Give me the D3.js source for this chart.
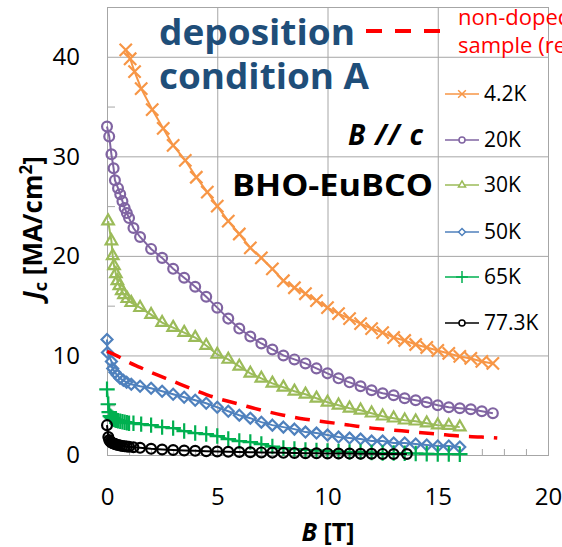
<!DOCTYPE html>
<html>
<head>
<meta charset="utf-8">
<script src="https://cdn.jsdelivr.net/npm/d3@7"></script>
<style>
  body { margin: 0; background: #fff; }
  svg { display: block; font-family: "Open Sans", "Noto Sans", sans-serif; }
</style>
</head>
<body>
<script>
// ---- data (B in T, Jc in MA/cm2) ----
const b42 = [0.85, 1.05, 1.25, 1.55, 2.05, 2.55, 3.0, 3.55, 4.05, 4.55, 5.0, 5.5, 6.0, 6.5, 7.0, 7.5, 8.0, 8.5, 9.0, 9.5, 10.0, 10.5, 11.0, 11.5, 12.0, 12.5, 13.0, 13.5, 14.0, 14.5, 15.0, 15.5, 16.0, 16.5, 17.0, 17.5];
const jc42 = [40.7, 39.8, 38.5, 36.8, 34.7, 32.8, 31.1, 29.6, 27.9, 26.4, 25.0, 23.5, 22.2, 20.8, 19.8, 18.7, 17.5, 16.8, 16.2, 15.5, 14.8, 14.2, 13.7, 13.2, 12.7, 12.3, 11.8, 11.5, 11.1, 10.8, 10.5, 10.2, 9.9, 9.7, 9.4, 9.2];

const b20 = [0, 0.1, 0.2, 0.3, 0.36, 0.5, 0.6, 0.7, 0.8, 0.9, 1.0, 1.2, 1.5, 2.0, 2.5, 3.0, 3.5, 4.0, 4.5, 5.0, 5.5, 6.0, 6.5, 7.0, 7.5, 8.0, 8.5, 9.0, 9.5, 10.0, 10.5, 11.0, 11.5, 12.0, 12.5, 13.0, 13.5, 14.0, 14.5, 15.0, 15.5, 16.0, 16.5, 17.0, 17.5];
const jc20 = [33.0, 32.0, 30.2, 28.8, 27.6, 26.8, 26.2, 25.5, 24.8, 24.3, 23.8, 22.8, 21.9, 20.7, 19.8, 18.7, 17.8, 16.9, 15.9, 14.8, 13.7, 12.7, 11.9, 11.2, 10.6, 10.0, 9.6, 9.2, 8.7, 8.2, 7.7, 7.3, 6.9, 6.5, 6.2, 6.0, 5.7, 5.5, 5.3, 5.0, 4.8, 4.7, 4.6, 4.4, 4.2];

const b30 = [0.05, 0.2, 0.26, 0.32, 0.4, 0.47, 0.56, 0.67, 0.77, 0.92, 1.1, 1.5, 2.0, 2.5, 3.0, 3.5, 4.0, 4.5, 5.0, 5.5, 6.0, 6.5, 7.0, 7.5, 8.0, 8.5, 9.0, 9.5, 10.0, 10.5, 11.0, 11.5, 12.0, 12.5, 13.0, 13.5, 14.0, 14.5, 15.0, 15.5, 16.0];
const jc30 = [23.5, 21.5, 20.0, 19.0, 18.2, 17.5, 17.0, 16.5, 16.1, 15.7, 15.3, 14.8, 14.1, 13.3, 12.8, 12.3, 11.8, 11.0, 10.1, 9.6, 8.9, 8.2, 7.7, 7.2, 6.8, 6.4, 6.1, 5.7, 5.3, 5.0, 4.7, 4.5, 4.2, 3.9, 3.7, 3.5, 3.4, 3.2, 3.0, 2.95, 2.8];

const b50 = [0, 0.02, 0.2, 0.26, 0.36, 0.47, 0.59, 0.74, 0.89, 1.1, 1.5, 2.0, 2.5, 3.0, 3.5, 4.0, 4.5, 5.0, 5.5, 6.0, 6.5, 7.0, 7.5, 8.0, 8.5, 9.0, 9.5, 10.0, 10.5, 11.0, 11.5, 12.0, 12.5, 13.0, 13.5, 14.0, 14.5, 15.0, 15.5, 16.0];
const jc50 = [11.6, 10.3, 9.4, 8.7, 8.3, 8.0, 7.7, 7.5, 7.3, 7.1, 6.9, 6.7, 6.4, 6.1, 5.8, 5.5, 5.2, 4.8, 4.4, 4.0, 3.7, 3.3, 3.0, 2.8, 2.6, 2.3, 2.2, 2.0, 1.8, 1.7, 1.6, 1.4, 1.4, 1.2, 1.2, 1.1, 1.0, 0.9, 0.9, 0.8];

const b65 = [0, 0.06, 0.1, 0.15, 0.2, 0.25, 0.3, 0.36, 0.42, 0.5, 0.6, 0.7, 0.8, 0.9, 1.0, 1.2, 1.55, 2.0, 2.5, 3.0, 3.5, 4.0, 4.5, 5.0, 5.5, 6.0, 6.5, 7.0, 7.5, 8.0, 8.5, 9.0, 9.5, 10.0, 10.5, 11.0, 11.5, 12.0, 12.5, 13.0, 13.5, 14.0, 14.5, 15.0, 15.5, 16.0];
const jc65 = [6.6, 5.1, 4.3, 3.9, 3.8, 3.7, 3.6, 3.55, 3.5, 3.45, 3.4, 3.35, 3.3, 3.25, 3.2, 3.2, 3.1, 3.0, 2.8, 2.7, 2.4, 2.2, 2.1, 1.9, 1.6, 1.4, 1.3, 1.1, 0.85, 0.7, 0.6, 0.5, 0.45, 0.4, 0.35, 0.3, 0.3, 0.25, 0.2, 0.2, 0.18, 0.15, 0.12, 0.1, 0.1, 0.08];

const b77 = [0, 0.06, 0.1, 0.15, 0.2, 0.25, 0.3, 0.36, 0.42, 0.5, 0.6, 0.7, 0.8, 0.9, 1.0, 1.2, 1.5, 2.0, 2.5, 3.0, 3.5, 4.0, 4.5, 5.0, 5.5, 6.0, 6.5, 7.0, 7.5, 8.0, 8.5, 9.0, 9.5, 10.0, 10.5, 11.0, 11.5, 12.0, 12.5, 13.0, 13.6];
const jc77 = [3.0, 1.8, 1.5, 1.35, 1.25, 1.2, 1.15, 1.1, 1.05, 1.0, 0.95, 0.9, 0.88, 0.85, 0.82, 0.78, 0.72, 0.62, 0.55, 0.5, 0.45, 0.42, 0.38, 0.35, 0.32, 0.3, 0.28, 0.26, 0.24, 0.22, 0.2, 0.18, 0.17, 0.16, 0.15, 0.14, 0.13, 0.12, 0.11, 0.1, 0.1];

// non-doped reference sample (dashed red)
const bRef = [0, 0.5, 1, 1.5, 2, 3, 4, 5, 6, 7, 8, 9, 10, 11, 12, 13, 14, 15, 16, 17, 17.7];
const jcRef = [10.4, 9.9, 9.3, 8.8, 8.3, 7.4, 6.5, 5.7, 5.1, 4.5, 4.0, 3.6, 3.3, 3.0, 2.7, 2.5, 2.3, 2.1, 1.9, 1.8, 1.7];

const seriesNames = ["4.2K", "20K", "30K", "50K", "65K", "77.3K"];
const xTicks = [0, 5, 10, 15, 20];
const yTicks = [0, 10, 20, 30, 40];

// ---- layout / style ----
const width = 562, height = 547;
const plot = { left: 107, right: 548, top: 7, bottom: 455 };
const gridColor = "#a6a6a6";

const colors = ["#f79646", "#8064a2", "#9bbb59", "#4f81bd", "#00b050", "#000000"];
const symbols = [
  d3.symbolTimes || d3.symbolCross,
  d3.symbolCircle,
  d3.symbolTriangle2 || d3.symbolTriangle,
  d3.symbolDiamond2 || d3.symbolDiamond,
  d3.symbolPlus || d3.symbolCross,
  d3.symbolCircle
];
const markerSize = [100, 76, 95, 76, 80, 76];
const legendSize = [40, 28, 36, 30, 48, 28];

const seriesB = [b42, b20, b30, b50, b65, b77];
const seriesJ = [jc42, jc20, jc30, jc50, jc65, jc77];
const series = seriesNames.map((name, i) => ({
  name, color: colors[i], symbol: symbols[i],
  points: seriesB[i].map((b, k) => ({ b, j: seriesJ[i][k] }))
}));
const refPoints = bRef.map((b, k) => ({ b, j: jcRef[k] }));

const svg = d3.select("body").append("svg")
  .attr("width", width)
  .attr("height", height);

// scales
const x = d3.scaleLinear().domain([0, 20]).range([plot.left, plot.right]);
const y = d3.scaleLinear().domain([0, 45]).range([plot.bottom, plot.top]);

// horizontal grid lines
svg.append("g")
  .attr("transform", `translate(${plot.left},0)`)
  .call(d3.axisRight(y).tickValues([10, 20, 30, 40]).tickSize(plot.right - plot.left).tickFormat(""))
  .call(g => g.select(".domain").remove())
  .call(g => g.selectAll("line").attr("stroke", gridColor));

// vertical grid lines
svg.append("g")
  .attr("transform", `translate(0,${plot.top})`)
  .call(d3.axisBottom(x).tickValues([5, 10, 15]).tickSize(plot.bottom - plot.top).tickFormat(""))
  .call(g => g.select(".domain").remove())
  .call(g => g.selectAll("line").attr("stroke", gridColor));

// minor ticks (inside)
svg.append("g")
  .attr("transform", `translate(${plot.left},0)`)
  .call(d3.axisRight(y).tickValues([5, 15, 25, 35]).tickSize(8).tickFormat(""))
  .call(g => g.select(".domain").remove())
  .call(g => g.selectAll("line").attr("stroke", gridColor));

svg.append("g")
  .attr("transform", `translate(0,${plot.bottom})`)
  .call(d3.axisTop(x).tickValues(d3.range(1, 20)).tickSize(6).tickFormat(""))
  .call(g => g.select(".domain").remove())
  .call(g => g.selectAll("line").attr("stroke", gridColor));

// plot frame
svg.append("rect")
  .attr("x", plot.left + 0.5).attr("y", plot.top + 0.5)
  .attr("width", plot.right - plot.left).attr("height", plot.bottom - plot.top)
  .attr("fill", "none").attr("stroke", gridColor);

// tick labels
svg.append("g")
  .attr("transform", `translate(${plot.left},0)`)
  .call(d3.axisLeft(y).tickValues(yTicks).tickSize(0).tickPadding(27))
  .call(g => g.select(".domain").remove())
  .call(g => g.selectAll("text").attr("font-size", 24).attr("font-family", "Open Sans").attr("fill", "#000"));

svg.append("g")
  .attr("transform", `translate(0,${plot.bottom})`)
  .call(d3.axisBottom(x).tickValues(xTicks).tickSize(0).tickPadding(33))
  .call(g => g.select(".domain").remove())
  .call(g => g.selectAll("text").attr("font-size", 24).attr("font-family", "Open Sans").attr("fill", "#000"));

// axis titles
const xTitle = svg.append("text")
  .attr("x", 328).attr("y", 541)
  .attr("text-anchor", "middle")
  .attr("font-size", 25).attr("font-weight", "bold");
xTitle.append("tspan").attr("font-style", "italic").text("B");
xTitle.append("tspan").text(" [T]");

const yTitle = svg.append("text")
  .attr("transform", "translate(42,228) rotate(-90)")
  .attr("text-anchor", "middle")
  .attr("font-size", 26).attr("font-weight", "bold");
yTitle.append("tspan").attr("font-style", "italic").text("J");
yTitle.append("tspan").attr("font-size", 18).attr("dy", 5).text("c");
yTitle.append("tspan").attr("dy", -5).text(" [MA/cm");
yTitle.append("tspan").attr("font-size", 17).attr("dy", -10).text("2");
yTitle.append("tspan").attr("dy", 10).text("]");

// series lines + markers
const line = d3.line().x(d => x(d.b)).y(d => y(d.j));

series.forEach((s, i) => {
  const g = svg.append("g");
  g.append("path")
    .datum(s.points)
    .attr("d", line)
    .attr("fill", "none")
    .attr("stroke", s.color)
    .attr("stroke-width", 2);
  g.selectAll("path.marker")
    .data(s.points)
    .enter()
    .append("path")
      .attr("class", "marker")
      .attr("transform", d => `translate(${x(d.b)},${y(d.j)})`)
      .attr("d", d3.symbol().type(s.symbol).size(markerSize[i]))
      .attr("fill", "none")
      .attr("stroke", s.color)
      .attr("stroke-width", 2.2);
});

// reference (dashed red)
svg.append("path")
  .datum(refPoints)
  .attr("d", d3.line().curve(d3.curveMonotoneX).x(d => x(d.b)).y(d => y(d.j)))
  .attr("fill", "none")
  .attr("stroke", "#ff0000")
  .attr("stroke-width", 3.5)
  .attr("stroke-dasharray", "15,10");

// legend
const legend = svg.append("g");
series.forEach((s, i) => {
  const ly = [94, 140, 185, 232, 277, 323][i];
  legend.append("line")
    .attr("x1", 445).attr("x2", 479).attr("y1", ly).attr("y2", ly)
    .attr("stroke", s.color).attr("stroke-width", 1.5);
  legend.append("path")
    .attr("transform", `translate(462,${ly})`)
    .attr("d", d3.symbol().type(s.symbol).size(legendSize[i]))
    .attr("fill", "#fff")
    .attr("stroke", s.color)
    .attr("stroke-width", 1.5);
  legend.append("text")
    .attr("x", 484).attr("y", ly)
    .attr("dy", "0.35em")
    .attr("font-size", 21)
    .text(s.name);
});

legend.append("line")
  .attr("x1", 366).attr("x2", 440).attr("y1", 31).attr("y2", 31)
  .attr("stroke", "#ff0000").attr("stroke-width", 4)
  .attr("stroke-dasharray", "16,13");
legend.append("text")
  .attr("x", 458).attr("y", 25)
  .attr("font-size", 22).attr("fill", "#ff0000")
  .text("non-doped");
legend.append("text")
  .attr("x", 458).attr("y", 53)
  .attr("font-size", 22).attr("fill", "#ff0000")
  .text("sample (ref.)");

// annotations
svg.append("text")
  .attr("x", 159).attr("y", 45)
  .attr("font-size", 35).attr("font-weight", "bold").attr("fill", "#1f4e79")
  .attr("textLength", 196).attr("lengthAdjust", "spacingAndGlyphs")
  .text("deposition");
svg.append("text")
  .attr("x", 159).attr("y", 89)
  .attr("font-size", 35).attr("font-weight", "bold").attr("fill", "#1f4e79")
  .attr("textLength", 210).attr("lengthAdjust", "spacingAndGlyphs")
  .text("condition A");

svg.append("text")
  .attr("x", 348).attr("y", 145)
  .attr("font-size", 28).attr("font-weight", "bold").attr("font-style", "italic")
  .attr("textLength", 75).attr("lengthAdjust", "spacing")
  .text("B // c");

svg.append("text")
  .attr("x", 232).attr("y", 196)
  .attr("font-size", 31).attr("font-weight", "bold")
  .attr("textLength", 201).attr("lengthAdjust", "spacingAndGlyphs")
  .text("BHO-EuBCO");
</script>
</body>
</html>
